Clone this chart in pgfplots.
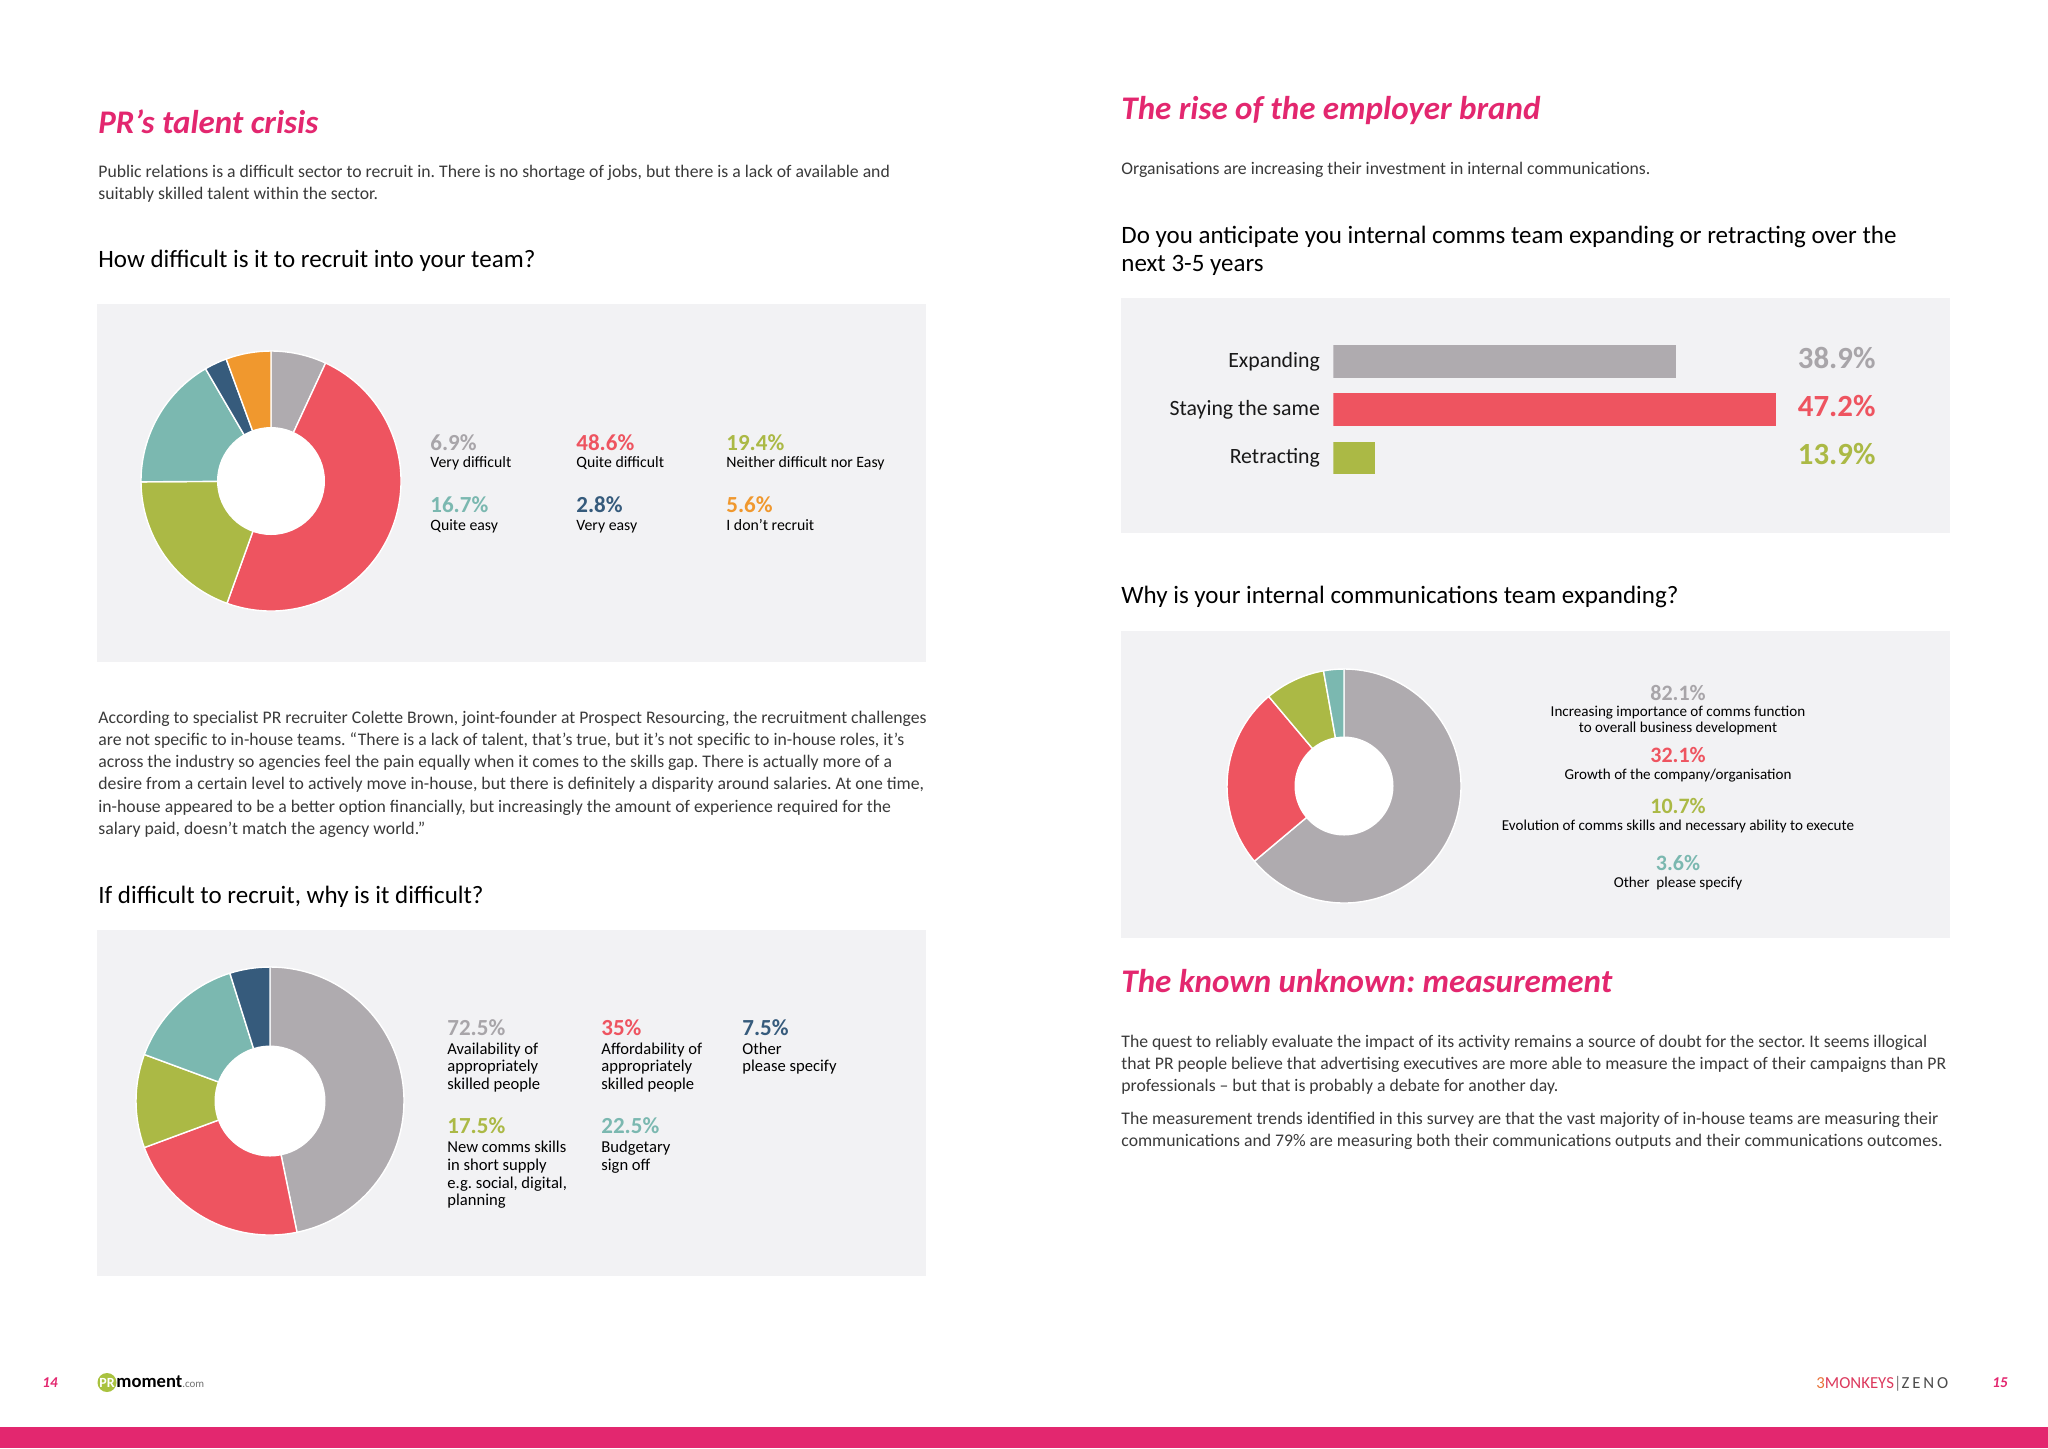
\documentclass[border=0pt]{standalone}
\usepackage{pgfplots}
\pgfplotsset{compat=1.18}
\usepackage{pgfplotstable}
\usepackage{fontspec}
\setmainfont{Carlito}
\frenchspacing

\definecolor{pink}{HTML}{E3276F}
\definecolor{panel}{HTML}{F2F2F4}
\definecolor{body}{HTML}{3A3A3A}
\definecolor{sgray}{HTML}{AFABAF}
\definecolor{sred}{HTML}{EE5460}
\definecolor{sgreen}{HTML}{ABB945}
\definecolor{steal}{HTML}{7BB8B0}
\definecolor{snavy}{HTML}{365B7C}
\definecolor{sorange}{HTML}{F0982E}
\definecolor{tgray}{HTML}{A8A5A9}
\definecolor{logogreen}{HTML}{A9C23F}
\definecolor{monkey}{HTML}{DC3A5E}
\definecolor{monkeyor}{HTML}{E9733A}

\newcommand\fsz[2]{\fontsize{#1}{#2}\selectfont}
\newcommand\titlefont{\bfseries\itshape\fsz{16.5}{19}}
\newcommand\headfont{\fsz{12.5}{15}}
\newcommand\bodyfont{\fsz{8.85}{11}}
\newcommand\pctfont{\bfseries\fsz{11.5}{13}}
\newcommand\labfont{\fsz{7.9}{9}}
\newcommand\labBfont{\fsz{8.3}{9}}
\newcommand\pctCfont{\bfseries\fsz{11}{13}}
\newcommand\labCfont{\fsz{7.55}{9}}
\newcommand\catfont{\fsz{10.9}{12}}
\newcommand\valfont{\bfseries\fsz{15.4}{17}}
\newcommand\tx[4][]{\node[anchor=base west,inner sep=0pt,#1] at (#2,#3) {#4};}

% how difficult is it to recruit (percent of respondents)
\pgfplotstableread{
v col
6.9 sgray
48.6 sred
19.4 sgreen
16.7 steal
2.8 snavy
5.6 sorange
}\donutA
% why is it difficult (multiple answers)
\pgfplotstableread{
v col
72.5 sgray
35 sred
17.5 sgreen
22.5 steal
7.5 snavy
}\donutB
% why is the internal comms team expanding
\pgfplotstableread{
v col
82.1 sgray
32.1 sred
10.7 sgreen
3.6 steal
}\donutC
\pgfplotstablecreatecol[create col/expr accum={\pgfmathaccuma + \thisrow{v}}{0}]{cum}\donutA
\pgfplotstablecreatecol[create col/expr accum={\pgfmathaccuma + \thisrow{v}}{0}]{cum}\donutB
\pgfplotstablecreatecol[create col/expr accum={\pgfmathaccuma + \thisrow{v}}{0}]{cum}\donutC

% slices clockwise from 12 o'clock: table, last row, outer radius, inner radius
\newcommand\donutslices[4]{%
  \pgfplotsinvokeforeach{0,...,#2}{%
    \pgfplotsextra{%
      \pgfplotstablegetelem{#2}{cum}\of#1\pgfmathsetmacro\dtot{\pgfplotsretval}%
      \pgfplotstablegetelem{##1}{cum}\of#1\pgfmathsetmacro\dcum{\pgfplotsretval}%
      \pgfplotstablegetelem{##1}{v}\of#1\pgfmathsetmacro\dval{\pgfplotsretval}%
      \pgfplotstablegetelem{##1}{col}\of#1\edef\dcol{\pgfplotsretval}%
      \pgfmathsetmacro\aone{90-(\dcum-\dval)/\dtot*360}%
      \pgfmathsetmacro\atwo{90-\dcum/\dtot*360}%
      \fill[fill=\dcol,draw=white,line width=0.7pt,line join=round] (axis cs:0,0) -- ++(\aone:#3) arc[start angle=\aone,end angle=\atwo,radius=#3] -- cycle;%
    }}%
  \pgfplotsextra{\fill[white] (axis cs:0,0) circle[radius=#4];}%
}
\pgfplotsset{donut/.style={anchor=origin,x=1pt,y=1pt,xmin=-70,xmax=70,ymin=-70,ymax=70,hide axis,clip=false}}

\begin{document}
\begin{tikzpicture}[x=0.5pt,y=-0.5pt]
\fill[white] (0,0) rectangle (2048,1448);
\useasboundingbox (0,0) rectangle (2048,1448);
\fill[panel] (97,304) rectangle (926,662);
\fill[panel] (97,930) rectangle (926,1276);
\fill[panel] (1121,298) rectangle (1950,533);
\fill[panel] (1121,631) rectangle (1950,938);
\fill[pink] (0,1427) rectangle (2048,1448);

% ---------- left page
\tx[text=pink,font=\titlefont]{98}{133}{PR’s talent crisis}
\tx[text=body,font=\bodyfont]{98}{177}{Public relations is a difficult sector to recruit in. There is no shortage of jobs, but there is a lack of available and}
\tx[text=body,font=\bodyfont]{98}{199.5}{suitably skilled talent within the sector.}
\tx[font=\headfont]{98}{267}{How difficult is it to recruit into your team?}

\coordinate (d1) at (271,481);
\begin{axis}[donut,at={(d1)}]
\donutslices{\donutA}{5}{65pt}{27pt}
\end{axis}
\tx[text=tgray,font=\pctfont]{430}{450}{6.9\%}
\tx[font=\labfont]{430}{467.7}{Very difficult}
\tx[text=sred,font=\pctfont]{576}{450}{48.6\%}
\tx[font=\labfont]{576}{467.7}{Quite difficult}
\tx[text=sgreen,font=\pctfont]{726}{450}{19.4\%}
\tx[font=\labfont]{726}{467.7}{Neither difficult nor Easy}
\tx[text=steal,font=\pctfont]{430}{512.3}{16.7\%}
\tx[font=\labfont]{430}{530}{Quite easy}
\tx[text=snavy,font=\pctfont]{576}{512.3}{2.8\%}
\tx[font=\labfont]{576}{530}{Very easy}
\tx[text=sorange,font=\pctfont]{726}{512.3}{5.6\%}
\tx[font=\labfont]{726}{530}{I don't recruit}

\tx[text=body,font=\bodyfont]{98}{723}{According to specialist PR recruiter Colette Brown, joint-founder at Prospect Resourcing, the recruitment challenges}
\tx[text=body,font=\bodyfont]{98}{745.3}{are not specific to in-house teams. “There is a lack of talent, that’s true, but it’s not specific to in-house roles, it’s}
\tx[text=body,font=\bodyfont]{98}{767.5}{across the industry so agencies feel the pain equally when it comes to the skills gap. There is actually more of a}
\tx[text=body,font=\bodyfont]{98}{789.8}{desire from a certain level to actively move in-house, but there is definitely a disparity around salaries. At one time,}
\tx[text=body,font=\bodyfont]{98}{812}{in-house appeared to be a better option financially, but increasingly the amount of experience required for the}
\tx[text=body,font=\bodyfont]{98}{834.3}{salary paid, doesn’t match the agency world.”}
\tx[font=\headfont]{98}{903}{If difficult to recruit, why is it difficult?}

\coordinate (d2) at (270,1101);
\begin{axis}[donut,at={(d2)}]
\donutslices{\donutB}{4}{67pt}{27.75pt}
\end{axis}
\tx[text=tgray,font=\pctfont]{447}{1035}{72.5\%}
\tx[font=\labBfont]{447}{1054}{Availability of}
\tx[font=\labBfont]{447}{1071.7}{appropriately}
\tx[font=\labBfont]{447}{1089.3}{skilled people}
\tx[text=sred,font=\pctfont]{601}{1035}{35\%}
\tx[font=\labBfont]{601}{1054}{Affordability of}
\tx[font=\labBfont]{601}{1071.7}{appropriately}
\tx[font=\labBfont]{601}{1089.3}{skilled people}
\tx[text=snavy,font=\pctfont]{742}{1035}{7.5\%}
\tx[font=\labBfont]{742}{1054}{Other}
\tx[font=\labBfont]{742}{1071.7}{please specify}
\tx[text=sgreen,font=\pctfont]{447}{1133.3}{17.5\%}
\tx[font=\labBfont]{447}{1152.7}{New comms skills}
\tx[font=\labBfont]{447}{1170.3}{in short supply}
\tx[font=\labBfont]{447}{1188}{e.g. social, digital,}
\tx[font=\labBfont]{447}{1205.5}{planning}
\tx[text=steal,font=\pctfont]{601}{1133.3}{22.5\%}
\tx[font=\labBfont]{601}{1152.7}{Budgetary}
\tx[font=\labBfont]{601}{1170.3}{sign off}

% ---------- right page
\tx[text=pink,font=\titlefont]{1121}{119.3}{The rise of the employer brand}
\tx[text=body,font=\bodyfont]{1121}{174}{Organisations are increasing their investment in internal communications.}
\tx[font=\headfont]{1121}{243}{Do you anticipate you internal comms team expanding or retracting over the}
\tx[font=\headfont]{1121}{271.7}{next 3-5 years}

\coordinate (bars) at (1333.3,337.2);
\begin{axis}[at={(bars)},anchor=north west,scale only axis,
  width=221.5pt,height=72.375pt,
  xmin=10.4,xmax=47.2,ymin=-0.5,ymax=2.5,y dir=reverse,
  xbar,bar width=16.25pt,
  axis line style={draw=none},xtick=\empty,ytick={0,1,2},
  yticklabels={Expanding,Staying the same,Retracting},
  major tick length=0pt,
  yticklabel style={font=\catfont,text=black!90,inner sep=0pt,xshift=-6.5pt},
  clip mode=individual]
\addplot[fill=sgray,draw=none,bar shift=0pt] coordinates {(38.9,0)};
\addplot[fill=sred,draw=none,bar shift=0pt] coordinates {(47.2,1)};
\addplot[fill=sgreen,draw=none,bar shift=0pt] coordinates {(13.9,2)};
\node[anchor=base east,inner sep=0pt,text=tgray,font=\valfont] at (axis cs:55.47,0.145) {38.9\%};
\node[anchor=base east,inner sep=0pt,text=sred,font=\valfont] at (axis cs:55.47,1.145) {47.2\%};
\node[anchor=base east,inner sep=0pt,text=sgreen,font=\valfont] at (axis cs:55.47,2.145) {13.9\%};
\end{axis}

\tx[font=\headfont]{1121}{603.3}{Why is your internal communications team expanding?}
\coordinate (d3) at (1344,786);
\begin{axis}[donut,at={(d3)}]
\donutslices{\donutC}{3}{58.5pt}{24.75pt}
\end{axis}
\begin{scope}[every node/.style={anchor=base,inner sep=0pt}]
\node[text=tgray,font=\pctCfont] at (1678,700) {82.1\%};
\node[font=\labCfont] at (1678,716.7) {Increasing importance of comms function};
\node[font=\labCfont] at (1678,732.3) {to overall business development};
\node[text=sred,font=\pctCfont] at (1678,762.7) {32.1\%};
\node[font=\labCfont] at (1678,779) {Growth of the company/organisation};
\node[text=sgreen,font=\pctCfont] at (1678,813.3) {10.7\%};
\node[font=\labCfont] at (1678,830) {Evolution of comms skills and necessary ability to execute};
\node[text=steal,font=\pctCfont] at (1678,870) {3.6\%};
\node[font=\labCfont] at (1678,887.3) {Other\ \ please specify};
\end{scope}

\tx[text=pink,font=\titlefont]{1121}{992.7}{The known unknown: measurement}
\tx[text=body,font=\bodyfont]{1121}{1047.7}{The quest to reliably evaluate the impact of its activity remains a source of doubt for the sector. It seems illogical}
\tx[text=body,font=\bodyfont]{1121}{1069.5}{that PR people believe that advertising executives are more able to measure the impact of their campaigns than PR}
\tx[text=body,font=\bodyfont]{1121}{1091.3}{professionals – but that is probably a debate for another day.}
\tx[text=body,font=\bodyfont]{1121}{1124.3}{The measurement trends identified in this survey are that the vast majority of in-house teams are measuring their}
\tx[text=body,font=\bodyfont]{1121}{1146}{communications and 79\% are measuring both their communications outputs and their communications outcomes.}

% ---------- footer
\tx[text=pink,font=\bfseries\itshape\fsz{7.5}{8}]{42}{1387}{14}
\fill[logogreen] (107,1382.5) circle[radius=9.5];
\node[text=white,font=\bfseries\fsz{7}{8},inner sep=0pt] at (107,1382.5) {PR};
\tx[font=\bfseries\fsz{9.3}{11}]{116}{1387}{moment\textcolor{black!55}{\fsz{5.5}{7}\mdseries.com}}
\tx[font=\fsz{8.4}{10}]{1816}{1388}{\textcolor{monkeyor}{3}\textcolor{monkey}{MONKEYS}\textcolor{black!50}{|}\textcolor{black!70}{Z\,E\,N\,O}}
\tx[text=pink,font=\bfseries\itshape\fsz{7.5}{8}]{1992}{1387}{15}
\end{tikzpicture}
\end{document}
